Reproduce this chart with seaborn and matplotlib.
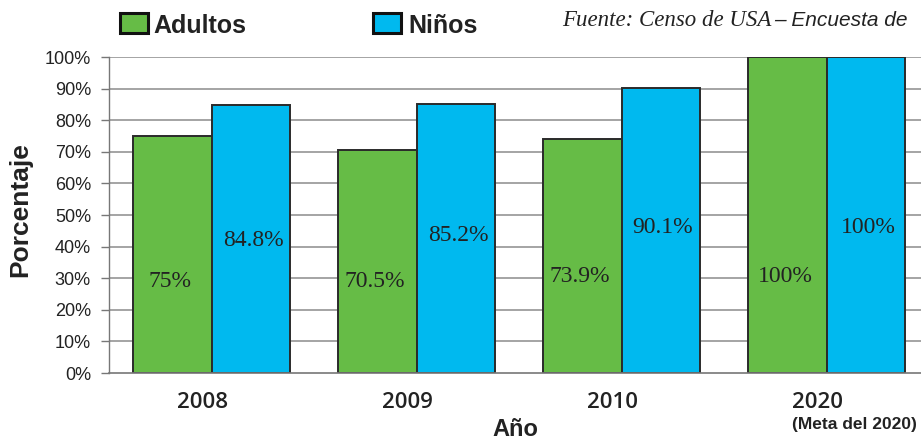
import pandas as pd
import numpy as np
import seaborn as sns
import matplotlib.pyplot as plt
from matplotlib.patches import Rectangle

years = ["2008", "2009", "2010", "2020"]
groups = ["Adultos", "Niños"]
adultos = [75, 70.5, 73.9, 100]
ninos = [84.8, 85.2, 90.1, 100]
labels_adultos = ["75%", "70.5%", "73.9%", "100%"]
labels_ninos = ["84.8%", "85.2%", "90.1%", "100%"]
yticks = list(range(0, 101, 10))

colors = {"Adultos": "#66bc46", "Niños": "#00b9ef"}

df = pd.DataFrame({
    "Año": years * 2,
    "grupo": ["Adultos"] * 4 + ["Niños"] * 4,
    "pct": adultos + ninos,
})

sns.set_style("white")
plt.rcParams['font.family'] = ['Liberation Sans', 'DejaVu Sans']

fig = plt.figure(figsize=(9.21, 4.4), dpi=100)
ax = fig.add_axes([109 / 921, 67 / 440, 820 / 921, 316 / 440])

for y in yticks[1:]:
    ax.axhline(y, color="#8c8c8c", lw=1.1, zorder=0)

sns.barplot(data=df, x="Año", y="pct", hue="grupo", hue_order=groups,
            palette=colors, saturation=1, width=0.77, gap=0, edgecolor="#2a2a2a",
            linewidth=1.4, legend=False, ax=ax, zorder=2)

ax.set_xlim(-0.5, 3.5)
ax.set_ylim(0, 100)
ax.set_yticks(yticks)
ax.set_yticklabels([f"{v}%" for v in yticks], fontsize=13, color="#222222")
ax.tick_params(axis="y", left=True, length=6, width=1, color="#777777", pad=7)
ax.tick_params(axis="x", bottom=False, labelbottom=False)
ax.set_xlabel("")
ax.set_ylabel("")
for side in ["top", "right"]:
    ax.spines[side].set_visible(False)
ax.spines["left"].set_color("#777777")
ax.spines["bottom"].set_color("#777777")
ax.spines["left"].set_linewidth(1)
ax.spines["bottom"].set_linewidth(1.2)

# value labels inside bars
bw = 0.77 / 2
y_ad = [28.8, 28.8, 30.4, 30.4]
y_ni = [42, 43.4, 46, 46]
for i in range(len(years)):
    ax.text(i - bw / 2 - 0.01, y_ad[i], labels_adultos[i], ha="center", va="center",
            fontsize=17, family="Liberation Serif", color="#222222", zorder=3)
    ax.text(i + bw / 2 + 0.01, y_ni[i], labels_ninos[i], ha="center", va="center",
            fontsize=17, family="Liberation Serif", color="#222222", zorder=3)

# year labels below
for i, yr in enumerate(years):
    ax.text(i - 0.045, -9.2, yr, ha="center", va="center", fontsize=16,
            family="Open Sans", fontweight="semibold", color="#222222",
            transform=ax.transData, clip_on=False)
fig.text(792 / 921, 1 - 424 / 440, "(Meta del 2020)", fontsize=12.5, fontweight="bold",
         color="#222222", ha="left", va="center")

fig.text(20 / 921, 1 - 210 / 440, "Porcentaje", rotation=90, fontsize=19,
         fontweight="bold", ha="center", va="center", color="#222222")
fig.text(515 / 921, 1 - 429 / 440, "Año", fontsize=17, fontweight="bold",
         ha="center", va="center", color="#222222")

# legend
for x0, tx, g in [(120, 153, "Adultos"), (373, 408, "Niños")]:
    fig.patches.append(Rectangle((x0 / 921, 1 - 33 / 440), 28 / 921, 20 / 440,
                                 transform=fig.transFigure, facecolor=colors[g],
                                 edgecolor="#111111", lw=2.2))
    fig.text(tx / 921, 1 - 26 / 440, g, fontsize=18, fontweight="bold",
             ha="left", va="center", color="#222222")

fig.text(562 / 921, 1 - 21 / 440, "Fuente: Censo de USA", fontsize=16.5,
         family="Liberation Serif", style="italic", ha="left", va="center", color="#222222")
fig.text(774 / 921, 1 - 21 / 440, "– Encuesta de", fontsize=15,
         style="italic", ha="left", va="center", color="#222222")

fig.savefig("out.png", dpi=100)
